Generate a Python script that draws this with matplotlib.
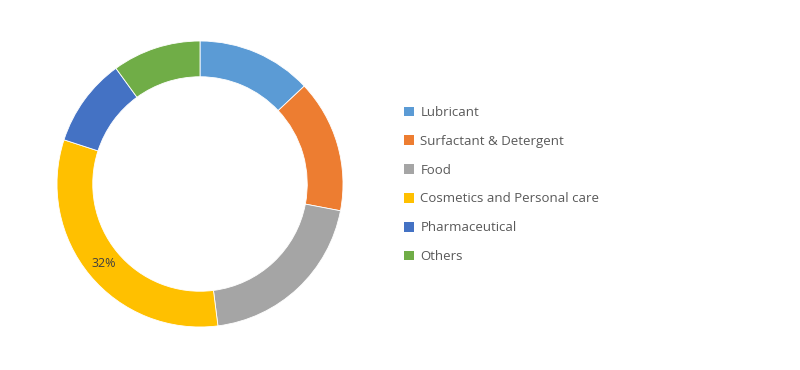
import matplotlib
matplotlib.use('Agg')
import matplotlib.pyplot as plt
from matplotlib.patches import Patch

labels = ['Lubricant', 'Surfactant & Detergent', 'Food',
          'Cosmetics and Personal care', 'Pharmaceutical', 'Others']
shares = [13, 15, 20, 32, 10, 10]
colors = ['#5B9BD5', '#ED7D31', '#A5A5A5', '#FFC000', '#4472C4', '#70AD47']

plt.rcParams['font.family'] = ['Open Sans', 'DejaVu Sans']

fig = plt.figure(figsize=(8, 3.7), dpi=100)
W, H = 800, 370
cx, cy, R = 200, 186, 143
ax = fig.add_axes([(cx - R) / W, (cy - R) / H, 2 * R / W, 2 * R / H])

def pct_label(p):
    # only the largest slice carries a label in the original
    return '%d%%' % round(p) if round(p) == 32 else ''

wedges, _, autotexts = ax.pie(shares, colors=colors, startangle=90, counterclock=False,
                              radius=1, autopct=pct_label, pctdistance=0.875,
                              wedgeprops=dict(width=0.25, edgecolor='white', linewidth=0.6),
                              textprops=dict(color='#404040', fontsize=9))
ax.set_xlim(-1, 1)
ax.set_ylim(-1, 1)
ax.set_aspect('equal')
ax.axis('off')

handles = [Patch(facecolor=c, edgecolor='none') for c in colors]
fig.legend(handles, labels, loc='upper left', bbox_to_anchor=(404 / W, 1 - 106 / H),
           frameon=False, fontsize=9.5, labelcolor='#595959',
           handlelength=0.75, handleheight=0.75, handletextpad=0.5,
           labelspacing=1.2, borderaxespad=0, borderpad=0)

fig.savefig('out.png', dpi=100)
